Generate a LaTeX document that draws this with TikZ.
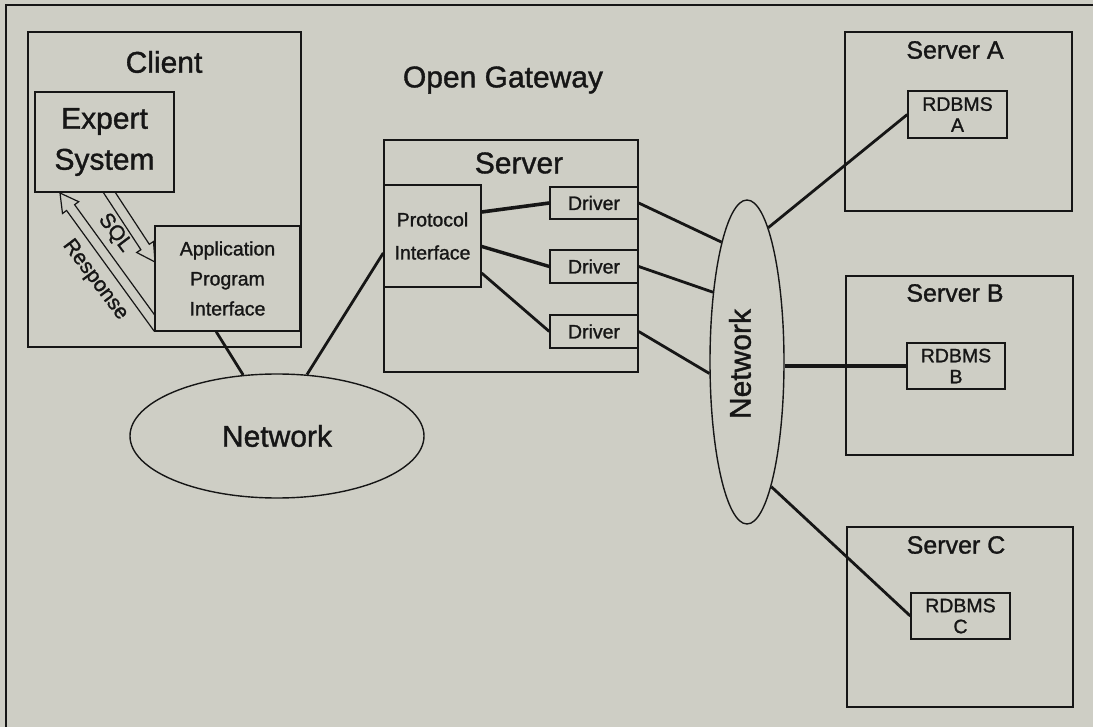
\documentclass[tikz,border=0pt]{standalone}
\usepackage{fontspec}
\setmainfont{Liberation Sans}[FakeBold=1.2]
\usetikzlibrary{shapes.geometric}
\definecolor{paper}{RGB}{206,206,197}
\definecolor{ink}{RGB}{22,22,22}

\begin{document}
\begin{tikzpicture}[x=1pt,y=-1pt,color=ink,
  box/.style={draw,line width=1.4pt,inner sep=0pt,fill=paper},
  conn/.style={line width=2.8pt},
  blk/.style={draw,line width=1.2pt,fill=paper,line join=miter},
  big/.style={font=\fontsize{30}{41}\selectfont,align=center},
  mid/.style={font=\fontsize{25}{30}\selectfont},
  small/.style={font=\fontsize{19.5}{30}\selectfont,align=center},
  rdb/.style={font=\fontsize{19.5}{21}\selectfont,align=center},
  net/.style={draw,ellipse,line width=1.4pt,inner sep=0pt}]
  \fill[paper] (0,0) rectangle (1093,727);
  \useasboundingbox (0,0) rectangle (1093,727);
  \draw[line width=2pt] (6,727) -- (6,5) -- (1093,5);

  \node[box,minimum width=273pt,minimum height=315pt] (client) at (164.5,189.5) {};
  \node[big] (clientlbl) at (164,62) {Client};
  \draw[blk] (103,192) -- (140.9,249.7) -- (136.7,252.5) -- (155,262) -- (153.5,241.5) -- (149.3,244.3) -- (115,192) -- cycle;
  \draw[blk] (162,325.1) -- (74.6,204.7) -- (78.7,201.7) -- (60,193) -- (62.5,213.5) -- (66.6,210.5) -- (154,330.9) -- cycle;
  \node[font=\fontsize{21}{21}\selectfont,rotate=-53] (sql) at (115,233) {SQL};
  \node[font=\fontsize{21}{21}\selectfont,rotate=-53] (resp) at (95,280) {Response};
  \node[box,big,minimum width=139pt,minimum height=100pt] (expert) at (104.5,142) {Expert\\System};
  \node[box,small,minimum width=145pt,minimum height=105pt] (api) at (227.5,278.5) {Application\\Program\\Interface};

  \node[big] (gw) at (503,80) {Open Gateway};
  \node[box,minimum width=254pt,minimum height=232pt] (server) at (511,256) {};
  \node[big] (serverlbl) at (519,163) {Server};
  \node[box,small,font=\fontsize{19.5}{33}\selectfont,minimum width=97pt,minimum height=102pt] (proto) at (432.5,236) {Protocol\\Interface};
  \node[box,small,minimum width=88pt,minimum height=32pt] (d1) at (594,203) {Driver};
  \node[box,small,minimum width=88pt,minimum height=33pt] (d2) at (594,266.5) {Driver};
  \node[box,small,minimum width=88pt,minimum height=33pt] (d3) at (594,331.5) {Driver};

  \node[net,big,minimum width=294pt,minimum height=124pt] (netL) at (277,436) {Network};
  \node[net,minimum width=74pt,minimum height=324pt] (netR) at (747,362) {};
  \node[big,rotate=90] (netRlbl) at (740,364) {Network};

  \node[box,minimum width=227pt,minimum height=179pt] (srvA) at (958.5,121.5) {};
  \node[mid] (srvAlbl) at (955,50) {Server A};
  \node[box,rdb,minimum width=99pt,minimum height=47pt] (rA) at (957.5,114.5) {RDBMS\\A};
  \node[box,minimum width=227pt,minimum height=179pt] (srvB) at (959.5,365.5) {};
  \node[mid] (srvBlbl) at (955,293) {Server B};
  \node[box,rdb,minimum width=98pt,minimum height=46pt] (rB) at (956,366) {RDBMS\\B};
  \node[box,minimum width=226pt,minimum height=180pt] (srvC) at (960,617) {};
  \node[mid] (srvClbl) at (956,545) {Server C};
  \node[box,rdb,minimum width=99pt,minimum height=46pt] (rC) at (960.5,616) {RDBMS\\C};

  \draw[conn] (api.258) -- (netL.119);
  \draw[conn] (proto.199) -- (netL.64);
  \draw[conn,line width=3.6pt] (proto.26) -- (d1.west);
  \draw[conn,line width=3.4pt] (proto.-12) -- (d2.west);
  \draw[conn] (proto.-37) -- (d3.west);
  \draw[conn] (d1.east) -- (netR.102);
  \draw[conn] (d2.east) -- (netR.116);
  \draw[conn] (d3.east) -- (netR.197);
  \draw[conn] (netR.81) -- (rA.west);
  \draw[conn,line width=3.6pt] (netR.east |- rB.west) -- (rB.west);
  \draw[conn] (netR.-79) -- (rC.west);
\end{tikzpicture}
\end{document}
